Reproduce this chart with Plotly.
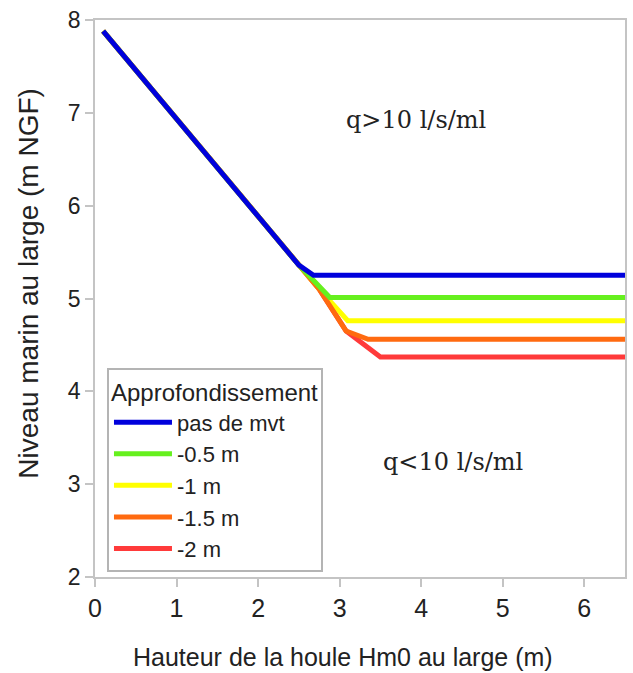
import plotly.graph_objects as go

# ---- data ----
series_names = ["pas de mvt", "-0.5 m", "-1 m", "-1.5 m", "-2 m"]
series_colors = ["#0000dc", "#66f01e", "#ffff00", "#ff6a10", "#ff3a3a"]

x_blue = [0.1, 2.5, 2.68, 6.5]
y_blue = [7.88, 5.36, 5.25, 5.25]

x_green = [0.1, 2.5, 2.88, 6.5]
y_green = [7.88, 5.36, 5.01, 5.01]

x_yellow = [0.1, 2.5, 2.75, 3.1, 6.5]
y_yellow = [7.88, 5.36, 5.10, 4.76, 4.76]

x_orange = [0.1, 2.5, 2.75, 3.08, 3.35, 6.5]
y_orange = [7.88, 5.36, 5.10, 4.65, 4.56, 4.56]

x_red = [0.1, 2.5, 2.75, 3.08, 3.5, 6.5]
y_red = [7.88, 5.36, 5.10, 4.65, 4.37, 4.37]

x_ticks = [0, 1, 2, 3, 4, 5, 6]
y_ticks = [2, 3, 4, 5, 6, 7, 8]

xs = [x_blue, x_green, x_yellow, x_orange, x_red]
ys = [y_blue, y_green, y_yellow, y_orange, y_red]

fig = go.Figure()
# draw bottom-most first (red) so blue sits on top, keep legend order via legendrank
draw_order = [4, 2, 3, 1, 0]
for i in draw_order:
    fig.add_trace(go.Scatter(
        x=xs[i], y=ys[i], mode="lines", name=series_names[i],
        line=dict(color=series_colors[i], width=5),
        legendrank=i + 1,
    ))

axis_grey = "#c4c4c4"
txt = "#222222"
fig.update_layout(
    width=633, height=673,
    margin=dict(l=95, r=8, t=20, b=96, autoexpand=False),
    paper_bgcolor="white", plot_bgcolor="white",
    font=dict(family="Liberation Sans, Arial, sans-serif", color=txt),
    showlegend=True,
    legend=dict(
        x=0.0226, y=0.375, xanchor="left", yanchor="top",
        bgcolor="white", bordercolor="#b4b4b4", borderwidth=2,
        title=dict(text="Approfondissement", font=dict(size=24, color=txt)),
        font=dict(size=22, color=txt),
        tracegroupgap=0, itemwidth=58,
    ),
    xaxis=dict(
        range=[0, 6.5], tickvals=x_ticks, showgrid=False, zeroline=False,
        showline=True, linecolor=axis_grey, linewidth=1.5, mirror=True,
        ticks="outside", ticklen=8, tickcolor=axis_grey, tickwidth=1.5,
        tickfont=dict(size=25, color=txt), automargin=False,
    ),
    yaxis=dict(
        range=[2, 8], tickvals=y_ticks, showgrid=False, zeroline=False,
        showline=True, linecolor=axis_grey, linewidth=1.5, mirror=True,
        ticks="outside", ticklen=8, tickcolor=axis_grey, tickwidth=1.5,
        tickfont=dict(size=23, color=txt), automargin=False,
    ),
    annotations=[
        dict(text="Hauteur de la houle Hm0 au large (m)", xref="paper", yref="paper",
             x=0.468, y=-0.1436, xanchor="center", yanchor="middle", showarrow=False,
             font=dict(size=25, color=txt)),
        dict(text="Niveau marin au large (m NGF)", xref="paper", yref="paper",
             x=-0.126, y=0.527, xanchor="center", yanchor="middle", showarrow=False,
             textangle=-90, font=dict(size=28, color=txt)),
        dict(text="q>10 l/s/ml", xref="x", yref="y", x=3.94, y=6.92,
             showarrow=False, font=dict(family="DejaVu Serif, serif", size=24, color=txt)),
        dict(text="q<10 l/s/ml", xref="x", yref="y", x=4.39, y=3.24,
             showarrow=False, font=dict(family="DejaVu Serif, serif", size=24, color=txt)),
    ],
)

fig.write_html(
    "out.html",
    config={"displayModeBar": False},
    post_script="document.body.style.margin='0';document.body.style.overflow='hidden';",
)
